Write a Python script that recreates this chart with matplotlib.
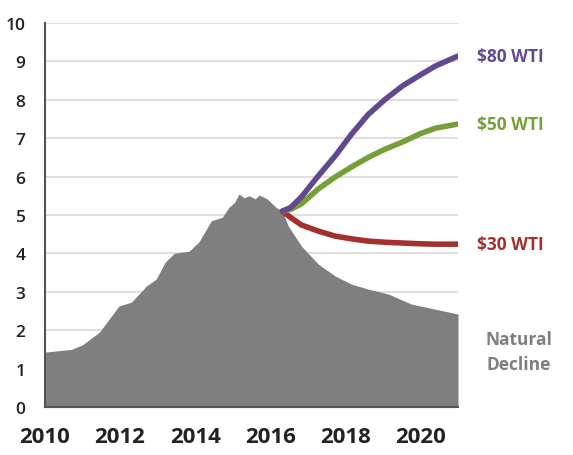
import numpy as np
import matplotlib.pyplot as plt

# historical production (gray area)
hist_x = [2010.0, 2010.3, 2010.7, 2011.0, 2011.45, 2011.97, 2012.3, 2012.7, 2012.96,
          2013.2, 2013.44, 2013.84, 2014.1, 2014.43, 2014.72, 2014.9, 2015.05,
          2015.17, 2015.3, 2015.44, 2015.6, 2015.7, 2015.92, 2016.15, 2016.32]
hist_y = [1.43, 1.46, 1.50, 1.62, 1.95, 2.63, 2.73, 3.15, 3.33,
          3.77, 4.0, 4.06, 4.3, 4.85, 4.94, 5.2, 5.33,
          5.55, 5.45, 5.5, 5.42, 5.52, 5.42, 5.2, 5.1]

# natural decline after 2016
decl_x = [2016.32, 2016.48, 2016.83, 2017.28, 2017.73, 2018.16, 2018.61, 2019.15, 2019.76, 2021.0]
decl_y = [5.1, 4.71, 4.19, 3.72, 3.41, 3.2, 3.07, 2.94, 2.68, 2.42]

# price scenarios
scen_x = [2016.32, 2016.55, 2016.83, 2017.28, 2017.73, 2018.16, 2018.61, 2019.07, 2019.52, 2020.0, 2020.4, 2021.0]
wti80 = [5.1, 5.2, 5.47, 6.02, 6.54, 7.1, 7.62, 8.02, 8.36, 8.65, 8.88, 9.14]
wti50 = [5.1, 5.15, 5.29, 5.68, 5.99, 6.25, 6.5, 6.72, 6.9, 7.12, 7.26, 7.37]
wti30 = [5.1, 4.93, 4.74, 4.58, 4.45, 4.38, 4.32, 4.29, 4.27, 4.25, 4.24, 4.24]

labels = ['$80 WTI', '$50 WTI', '$30 WTI']
colors = ['#62488f', '#76a037', '#a3302e']
gray = '#7f7f7f'

plt.rcParams['font.family'] = ['Open Sans', 'DejaVu Sans']

fig = plt.figure(figsize=(5.73, 4.56), dpi=100)
ax = fig.add_axes([45/573, 48/456, 413/573, 384/456])

ax.fill_between(hist_x + decl_x[1:], hist_y + decl_y[1:], 0, color=gray, lw=0, zorder=2)

for ys, c, lab in zip([wti30, wti50, wti80], colors[::-1], labels[::-1]):
    ax.plot(scen_x, ys, color=c, lw=4, solid_capstyle='round', zorder=3)
    ax.annotate(lab, xy=(1, ys[-1]), xycoords=('axes fraction', 'data'),
                xytext=(14, 0), textcoords='offset points', ha='left', va='center',
                color=c, fontsize=12.5, fontweight='bold', annotation_clip=False)

ax.annotate('Natural\nDecline', xy=(1, 2.42), xycoords=('axes fraction', 'data'),
            xytext=(44, -27), textcoords='offset points', ha='center', va='center',
            color=gray, fontsize=12.5, fontweight='bold', linespacing=1.45,
            annotation_clip=False)

ax.set_xlim(2010, 2021)
ax.set_ylim(0, 10)
ax.set_yticks(range(0, 11))
ax.set_xticks([2010, 2012, 2014, 2016, 2018, 2020])
ax.grid(axis='y', color='#d9d9d9', lw=1.2, zorder=1)
ax.set_axisbelow(True)
ax.tick_params(length=0)
ax.tick_params(axis='y', pad=14, labelsize=12.5, labelcolor='#222222')
ax.tick_params(axis='x', pad=14, labelsize=16, labelcolor='#222222')
for t in ax.get_xticklabels():
    t.set_fontweight('bold')
for t in ax.get_yticklabels():
    t.set_fontweight('semibold')

for s in ['top', 'right']:
    ax.spines[s].set_visible(False)
for s in ['left', 'bottom']:
    ax.spines[s].set_color('#555555')
    ax.spines[s].set_linewidth(1.5)
    ax.spines[s].set_zorder(4)

fig.savefig('out.png', dpi=100, facecolor='white')
